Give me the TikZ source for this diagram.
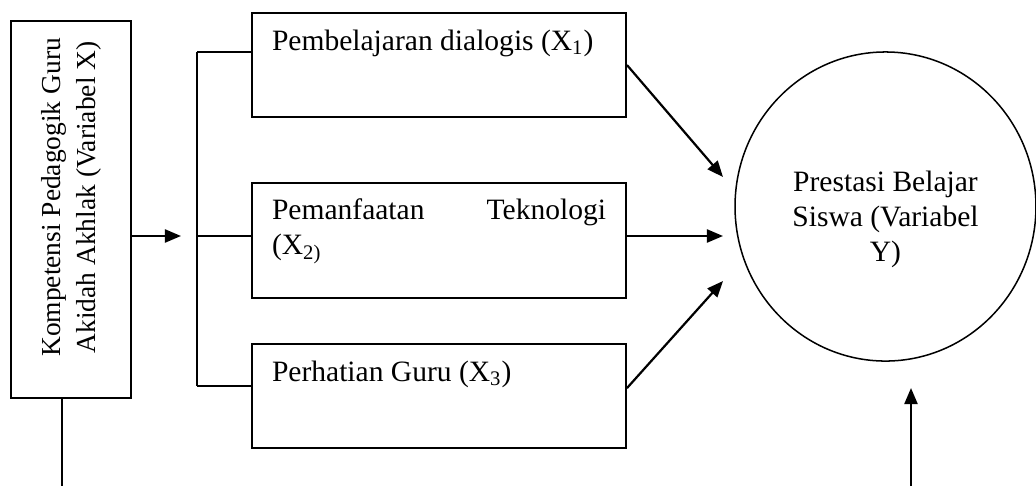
\documentclass[tikz,border=0pt]{standalone}
\usepackage{fontspec}
\setmainfont{Liberation Serif}
\usetikzlibrary{arrows.meta,shapes.geometric}

\tikzset{
	teks/.style={font=\fontsize{12.7}{15}\selectfont},
	kotak/.style={teks,draw,line width=.85pt,inner xsep=8.6pt,inner ysep=5.4pt},
	kotakX/.style={draw,line width=.85pt,rotate=90,align=center,inner sep=0pt,
		font=\fontsize{11.8}{15}\selectfont,minimum width=162.1pt,minimum height=51.6pt},
	bulat/.style={teks,draw,ellipse,line width=.65pt,align=center,inner sep=0pt,
		minimum width=129.4pt,minimum height=132.9pt},
	panah/.style={->,line width=.95pt}
}
\newcommand{\isikotak}[2]{\parbox[t][#1][t]{143.6pt}{\raggedright\strut #2}}

\begin{document}
\begin{tikzpicture}[x=.43pt,y=-.43pt,>={Triangle[length=6.9pt,width=5.6pt]},line width=.85pt]
\useasboundingbox (0,0) rectangle (1036,486);

\node[kotakX] (vx) at (71,209.5) {\hspace*{10.4pt}Kompetensi Pedagogik Guru\\\hspace*{10.4pt}Akidah Akhlak (Variabel X)};
\node[kotak] (x1) at (439,65) {\isikotak{33.9pt}{Pembelajaran dialogis (X\textsubscript{1})}};
\node[kotak] (x2) at (439,240.5) {\isikotak{38.7pt}{Pemanfaatan\hfill Teknologi\\(X\textsubscript{2)}}};
\node[kotak] (x3) at (439,396) {\isikotak{33.9pt}{Perhatian Guru (X\textsubscript{3})}};
\node[bulat] (vy) at (885.5,206.5) {\rule{0pt}{20pt}Prestasi Belajar\\Siswa (Variabel\\Y)};

\coordinate (k1) at (197,52);
\coordinate (k2) at (197,236);
\coordinate (k3) at (197,386);
\coordinate (ujung) at (181,236);
\coordinate (t1) at (723,177);
\coordinate (t2) at (723,236);
\coordinate (t3) at (723,281);
\coordinate (t4) at (911,388);
\coordinate (bawahX) at (62,486);
\coordinate (bawahY) at (911,486);

\draw[panah] (vx.south |- ujung) -- (ujung);
\draw (k1) -- (k3);
\foreach \k/\b in {k1/x1,k2/x2,k3/x3}{
	\draw (\k) -- (\k -| \b.west);
	}
\draw[panah] (x1.east) -- (t1);
\draw[panah] (x2.east |- t2) -- (t2);
\draw[panah] ([yshift=3.4pt]x3.east) -- (t3);
\draw (bawahX |- vx.west) -- (bawahX);
\draw[panah] (bawahY) -- (t4);
\end{tikzpicture}
\end{document}
